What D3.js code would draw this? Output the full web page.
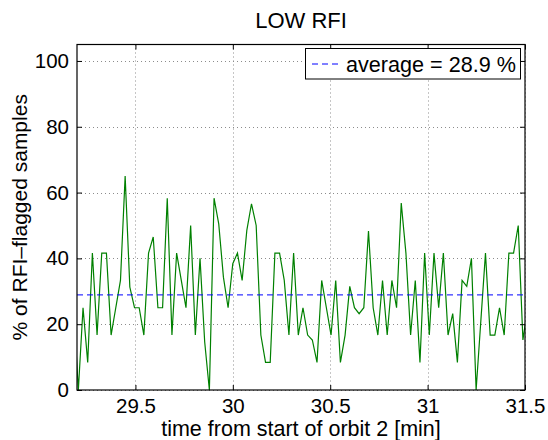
<!DOCTYPE html>
<html><head><meta charset="utf-8">
<script src="https://cdn.jsdelivr.net/npm/d3@7"></script>
<style>body{margin:0;background:#fff} text{font-family:"Liberation Sans",Arial,Helvetica,sans-serif;fill:#000}</style>
</head><body><svg id="c" width="548" height="440"></svg>
<script>
const title = "LOW RFI";
const xLabel = "time from start of orbit 2 [min]";
const yLabel = "% of RFI\u2013flagged samples";
const legendLabel = "average = 28.9 %";
const xTicks = [29.5, 30, 30.5, 31, 31.5];
const yTicks = [0, 20, 40, 60, 80, 100];
const startTime = 29.1829;   // first sample (min)
const timeStep = 0.024025;   // sampling interval (min)
const flagged = [25, 0, 25, 8.4, 41.6, 16.7, 41.6, 41.6, 16.7, 25, 33.3, 65, 31.3, 25, 25, 16.7, 41.6, 46.5, 25, 25,
  58.3, 16.7, 41.6, 33.3, 25, 50, 16.7, 40, 14.6, 0, 58.3, 50.5, 34.3, 25, 38.4, 41.6, 33.3, 48.5, 56.6, 50,
  16.7, 8.4, 8.4, 41.6, 41.6, 33.3, 16.7, 41.6, 16.7, 25, 16.7, 15.2, 8.4, 33.3, 25, 16.7, 33.3, 8.4, 16.7, 31.5,
  25, 23.2, 25, 48.3, 25, 16.7, 33.3, 16.7, 33.3, 25, 56.8, 41.6, 16.7, 33.3, 8.4, 41.6, 16.7, 41.6, 25, 41.6,
  16.7, 23.2, 8.4, 33.3, 31.5, 40, 0, 20.8, 41.6, 16.7, 16.7, 25, 16.7, 41.6, 41.6, 50, 15.2, 25];
const average = 28.9;

const L = 77, R = 525, T = 44.5, B = 390;
const svg = d3.select("#c");
const x = d3.scaleLinear().domain([29.2, 31.5]).range([L, R]);
const y = d3.scaleLinear().domain([0, 105]).range([B, T]);
const data = flagged.map((v, i) => ({t: startTime + i * timeStep, v}));

svg.append("defs").append("clipPath").attr("id", "clip")
  .append("rect").attr("x", L).attr("y", T).attr("width", R - L).attr("height", B - T);

// grid
const grid = svg.append("g").attr("stroke", "#8c8c8c").attr("stroke-width", 1).attr("stroke-dasharray", "1,3");
grid.selectAll("line.gx").data(xTicks).join("line")
  .attr("x1", d => Math.round(x(d)) + 0.5).attr("x2", d => Math.round(x(d)) + 0.5)
  .attr("y1", T).attr("y2", B);
grid.selectAll("line.gy").data(yTicks).join("line")
  .attr("y1", d => Math.round(y(d)) + 0.5).attr("y2", d => Math.round(y(d)) + 0.5)
  .attr("x1", L).attr("x2", R);

// data
const plot = svg.append("g").attr("clip-path", "url(#clip)");
plot.append("path").datum(data)
  .attr("fill", "none").attr("stroke", "#008000").attr("stroke-width", 1.2)
  .attr("d", d3.line().x(d => x(d.t)).y(d => y(d.v)));
plot.append("line")
  .attr("x1", L).attr("x2", R).attr("y1", y(average)).attr("y2", y(average))
  .attr("stroke", "#0000ff").attr("stroke-width", 1).attr("stroke-dasharray", "6,4");

// axes (all four sides, inward ticks)
const tick = 5;
const axB = svg.append("g").attr("transform", `translate(0,${B})`)
  .call(d3.axisBottom(x).tickValues(xTicks).tickSizeInner(-tick).tickSizeOuter(0).tickPadding(8).tickFormat(d3.format("")));
const axT = svg.append("g").attr("transform", `translate(0,${T})`)
  .call(d3.axisTop(x).tickValues(xTicks).tickSizeInner(-tick).tickSizeOuter(0).tickFormat(""));
const axL = svg.append("g").attr("transform", `translate(${L},0)`)
  .call(d3.axisLeft(y).tickValues(yTicks).tickSizeInner(-tick).tickSizeOuter(0).tickPadding(8));
const axR = svg.append("g").attr("transform", `translate(${R},0)`)
  .call(d3.axisRight(y).tickValues(yTicks).tickSizeInner(-tick).tickSizeOuter(0).tickFormat(""));
[axB, axT, axL, axR].forEach(a => {
  a.select(".domain").remove();
  a.selectAll("line").attr("stroke", "#000");
  a.selectAll("text").attr("font-size", 20.5).attr("font-family", "Liberation Sans, Arial, sans-serif").attr("fill", "#000");
});
svg.append("rect").attr("x", L).attr("y", T).attr("width", R - L).attr("height", B - T)
  .attr("fill", "none").attr("stroke", "#000").attr("stroke-width", 1.2);

// labels
svg.append("text").attr("x", (L + R) / 2).attr("y", 28).attr("text-anchor", "middle")
  .attr("font-size", 22).text(title);
svg.append("text").attr("x", (L + R) / 2).attr("y", 436).attr("text-anchor", "middle")
  .attr("font-size", 21.5).text(xLabel);
svg.append("text").attr("transform", `translate(27,${(T + B) / 2}) rotate(-90)`).attr("text-anchor", "middle")
  .attr("font-size", 21).text(yLabel);

// legend
const lg = svg.append("g");
lg.append("rect").attr("x", 305.5).attr("y", 48.5).attr("width", 215).attr("height", 30.5)
  .attr("fill", "#fff").attr("stroke", "#000").attr("stroke-width", 1);
lg.append("line").attr("x1", 312).attr("x2", 342).attr("y1", 64).attr("y2", 64)
  .attr("stroke", "#0000ff").attr("stroke-width", 1).attr("stroke-dasharray", "6,4");
lg.append("text").attr("x", 346).attr("y", 72).attr("font-size", 21.6).text(legendLabel);
</script></body></html>
